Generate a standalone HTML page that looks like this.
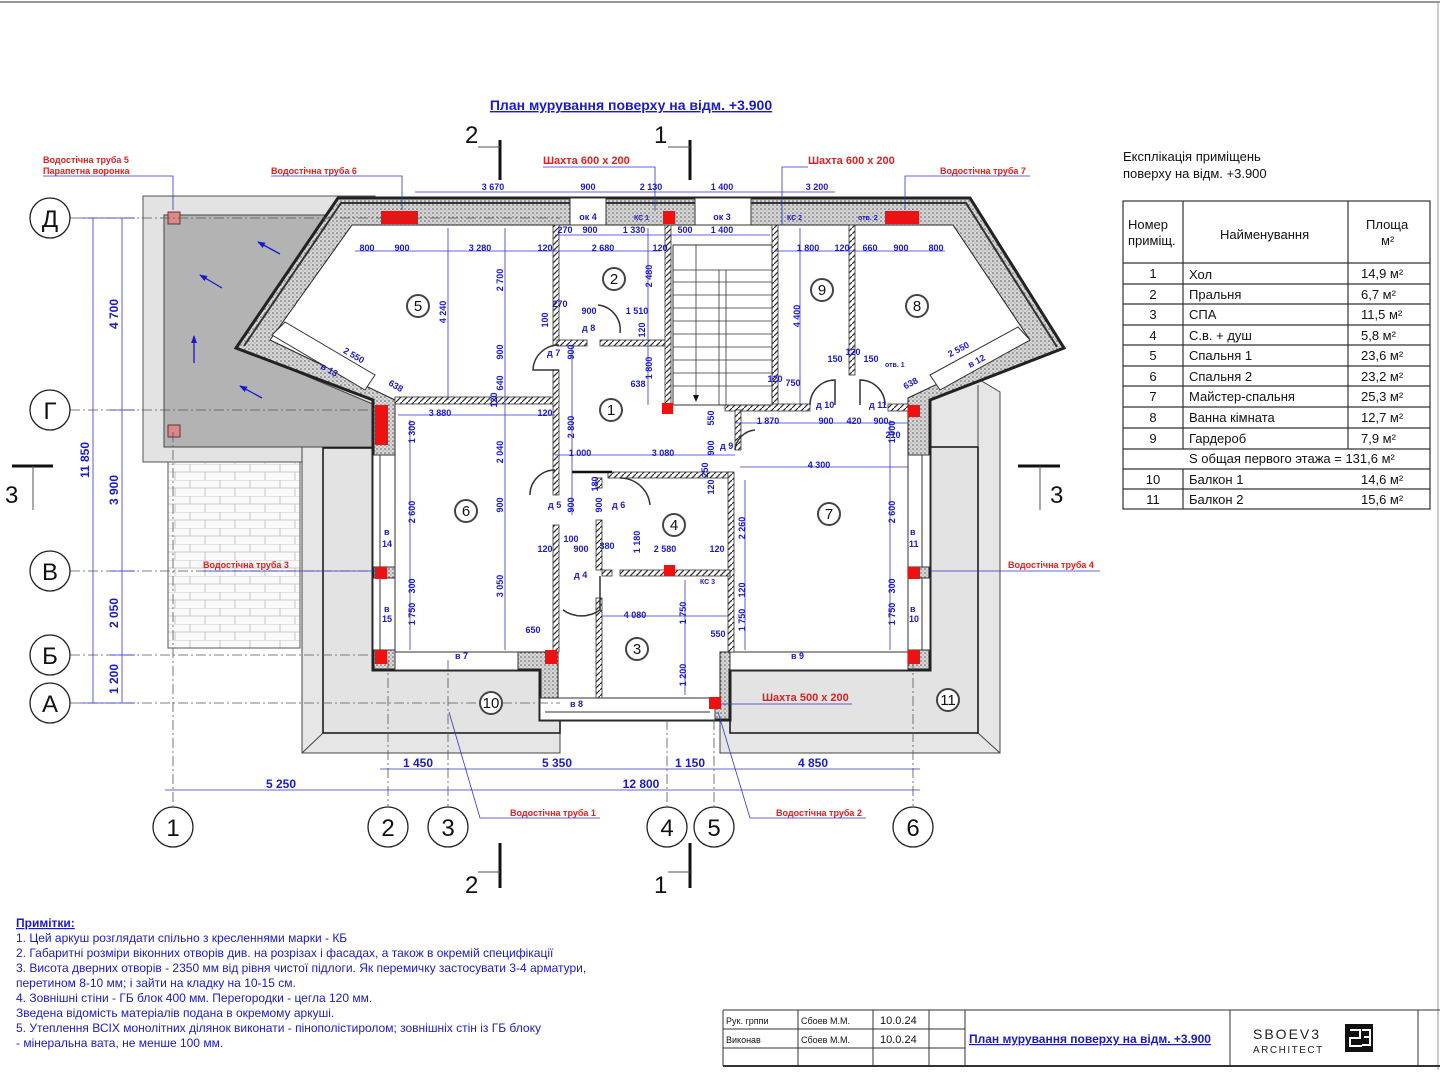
<!DOCTYPE html>
<html><head><meta charset="utf-8"><style>
html,body{margin:0;padding:0;background:#fff}
svg{display:block}
text{font-family:"Liberation Sans",sans-serif}
.d{fill:#1a1acc;font-size:9px;font-weight:bold}
.dl{stroke:#3333cc;stroke-width:0.8;fill:none}
.r{fill:#e02020;font-size:9px;font-weight:bold}
.ax{stroke:#555;stroke-width:0.8;stroke-dasharray:10 3 2 3;fill:none}
.pt{fill:none;stroke:#333;stroke-width:1.5}
.red{fill:#ee1111}
.bt{fill:#1a1acc;font-size:12px}
</style></head><body>
<svg width="1455" height="1080" viewBox="0 0 1455 1080" xmlns="http://www.w3.org/2000/svg">
<defs>
<pattern id="ins" width="4" height="4" patternUnits="userSpaceOnUse"><rect width="4" height="4" fill="#d8d8d8"/><circle cx="1" cy="1" r="0.8" fill="#555"/><circle cx="3" cy="3" r="0.6" fill="#888"/></pattern>
<pattern id="brick" width="30" height="16" patternUnits="userSpaceOnUse"><rect width="30" height="16" fill="#fafafa"/><path d="M0 0H30M0 8H30M10 0V8M25 8V16" stroke="#bbb" stroke-width="0.8"/></pattern>
<pattern id="hat" width="6" height="6" patternUnits="userSpaceOnUse"><rect width="6" height="6" fill="#fff"/><path d="M0 6L6 0" stroke="#333" stroke-width="1.3"/></pattern>
<marker id="ah" markerWidth="8" markerHeight="8" refX="7" refY="4" orient="auto" markerUnits="userSpaceOnUse"><path d="M0 1L8 4L0 7Z" fill="#1a1acc"/></marker>
</defs>
<rect width="1455" height="1080" fill="#fff"/>
<line x1="0" y1="2" x2="1440" y2="2" stroke="#777" stroke-width="1.5"/>
<line x1="1438" y1="2" x2="1438" y2="1070" stroke="#999" stroke-width="1"/>

<text x="631" y="110" text-anchor="middle" style="fill:#1a1acc;font-size:14px;font-weight:bold;text-decoration:underline">План мурування поверху на відм. +3.900</text>

<rect x="143" y="196" width="232" height="266" fill="#e3e3e3" stroke="#555" stroke-width="1"/>
<polygon points="164,215 335,215 240,348 375,405 375,447 164,447" fill="#b3b3b3" stroke="#444" stroke-width="1"/>
<rect x="168" y="212" width="12" height="12" fill="#d88" stroke="#633"/>
<rect x="168" y="425" width="12" height="12" fill="#d88" stroke="#633"/>
<g stroke="#1a1acc" stroke-width="1.3">
<line x1="280" y1="254" x2="258" y2="242" marker-end="url(#ah)"/><line x1="222" y1="288" x2="200" y2="275" marker-end="url(#ah)"/><line x1="194" y1="363" x2="194" y2="336" marker-end="url(#ah)"/><line x1="262" y1="398" x2="240" y2="386" marker-end="url(#ah)"/>
</g>
<rect x="168" y="462" width="132" height="186" fill="url(#brick)" stroke="#555"/>

<rect x="302" y="447" width="258" height="306" fill="#e6e6e6" stroke="#444"/>
<rect x="323" y="448" width="237" height="285" fill="#e3e3e3" stroke="#111" stroke-width="1.5"/>
<line x1="302" y1="753" x2="323" y2="733" stroke="#444"/>
<polygon points="930,385 980,380 1000,392 1000,753 720,753 720,447 930,447" fill="#e6e6e6" stroke="#444"/>
<rect x="730" y="447" width="248" height="286" fill="#e3e3e3" stroke="#111" stroke-width="1.5"/>
<line x1="1000" y1="753" x2="978" y2="733" stroke="#444"/>
<line x1="978" y1="447" x2="978" y2="385" stroke="#444"/>

<polygon points="338,198 970,198 1064,348 930,400 930,670 730,670 730,720 540,720 540,670 373,670 373,400 236,348" fill="url(#ins)" stroke="#222" stroke-width="3"/>
<polyline points="244,346 341,203 966,203 1057,347" fill="none" stroke="#333" stroke-width="2"/>
<polygon points="352,225 953,225 1030,340 908,398 908,652 720,652 720,698 558,698 558,652 395,652 395,400 270,340" fill="#fff" stroke="#222" stroke-width="1"/>
<rect x="540" y="698" width="175" height="22" fill="#fff" stroke="#333"/>
<line x1="545" y1="712" x2="710" y2="712" stroke="#333"/>
<rect x="570" y="198" width="36" height="27" fill="#fff" stroke="#333"/><text x="588" y="220" class="d" text-anchor="middle">ок 4</text>
<rect x="695" y="198" width="56" height="27" fill="#fff" stroke="#333"/><text x="722" y="220" class="d" text-anchor="middle">ок 3</text>
<rect x="373" y="455" width="22" height="112" fill="#fff" stroke="#333"/><line x1="380" y1="455" x2="380" y2="567" stroke="#333"/>
<rect x="373" y="578" width="22" height="72" fill="#fff" stroke="#333"/><line x1="380" y1="578" x2="380" y2="650" stroke="#333"/>
<rect x="908" y="455" width="22" height="112" fill="#fff" stroke="#333"/><line x1="922" y1="455" x2="922" y2="567" stroke="#333"/>
<rect x="908" y="578" width="22" height="72" fill="#fff" stroke="#333"/><line x1="922" y1="578" x2="922" y2="650" stroke="#333"/>
<rect x="395" y="652" width="123" height="18" fill="#fff" stroke="#333"/>
<rect x="730" y="652" width="178" height="18" fill="#fff" stroke="#333"/>
<polygon points="272,335 285,322 375,375 365,390" fill="#fff" stroke="#333"/>
<polygon points="930,375 1018,327 1030,340 940,390" fill="#fff" stroke="#333"/>
<text x="320" y="368" class="d" transform="rotate(30 320 368)">в 13</text>
<text x="970" y="368" class="d" transform="rotate(-28 970 368)">в 12</text>
<text x="384" y="535" class="d">в</text><text x="382" y="547" class="d">14</text>
<text x="384" y="612" class="d">в</text><text x="382" y="622" class="d">15</text>
<text x="910" y="535" class="d">в</text><text x="909" y="547" class="d">11</text>
<text x="910" y="612" class="d">в</text><text x="909" y="622" class="d">10</text>
<text x="455" y="659" class="d">в 7</text><text x="791" y="659" class="d">в 9</text><text x="570" y="707" class="d">в 8</text>

<g fill="url(#hat)" stroke="#333" stroke-width="0.8">
<rect x="395" y="397" width="160" height="7"/>
<rect x="553" y="225" width="6" height="120"/>
<rect x="553" y="370" width="6" height="125"/>
<rect x="553" y="525" width="6" height="127"/>
<rect x="557" y="340" width="30" height="6"/>
<rect x="600" y="340" width="68" height="6"/>
<rect x="665" y="225" width="6" height="180"/>
<rect x="772" y="225" width="6" height="180"/>
<rect x="725" y="404" width="85" height="7"/>
<rect x="888" y="404" width="20" height="7"/>
<rect x="849" y="225" width="6" height="150"/>
<rect x="608" y="472" width="122" height="6"/>
<rect x="728" y="472" width="6" height="180"/>
<rect x="596" y="478" width="6" height="10"/>
<rect x="596" y="520" width="6" height="50"/>
<rect x="596" y="598" width="6" height="100"/>
<rect x="602" y="570" width="10" height="6"/>
<rect x="620" y="570" width="110" height="6"/>
<rect x="735" y="410" width="6" height="40"/>
</g>
<line x1="572" y1="472" x2="612" y2="472" stroke="#111" stroke-width="2.5"/>
<rect x="673" y="245" width="99" height="160" fill="#fff" stroke="#333"/>
<g stroke="#333" stroke-width="0.8">
<line x1="719" y1="270" x2="719" y2="405"/><line x1="726" y1="270" x2="726" y2="405"/>
<line x1="673" y1="270" x2="772" y2="270"/><line x1="673" y1="282" x2="772" y2="282"/><line x1="673" y1="295" x2="772" y2="295"/><line x1="673" y1="308" x2="772" y2="308"/><line x1="673" y1="321" x2="772" y2="321"/><line x1="673" y1="334" x2="772" y2="334"/><line x1="673" y1="347" x2="772" y2="347"/><line x1="673" y1="360" x2="772" y2="360"/><line x1="673" y1="373" x2="772" y2="373"/><line x1="673" y1="386" x2="772" y2="386"/>
<line x1="696" y1="245" x2="696" y2="395"/>
</g>
<path d="M693 395L696 402L699 395Z" fill="#111"/>
<g class="pt" stroke-width="1">
<path d="M559 345 A26 26 0 0 0 533 370 L559 370"/>
<path d="M598 305 A25 25 0 0 1 620 333"/>
<path d="M555 470 A25 25 0 0 0 530 495"/>
<path d="M620 478 A30 30 0 0 1 650 505"/>
<path d="M600 576 V610 A32 32 0 0 1 563 610"/>
<path d="M735 450 A22 22 0 0 1 755 430"/>
<path d="M810 405 A25 25 0 0 1 835 380 V405"/>
<path d="M860 405 V380 A25 25 0 0 1 885 405"/>
</g>
<text x="547" y="356" class="d">д 7</text><text x="582" y="331" class="d">д 8</text><text x="548" y="508" class="d">д 5</text><text x="612" y="508" class="d">д 6</text><text x="574" y="578" class="d">д 4</text><text x="720" y="449" class="d">д 9</text><text x="816" y="408" class="d">д 10</text><text x="869" y="408" class="d">д 11</text>

<g class="red">
<rect x="381" y="211" width="37" height="13"/><rect x="885" y="211" width="34" height="13"/><rect x="663" y="211" width="12" height="13"/>
<rect x="375" y="405" width="13" height="40"/><rect x="908" y="405" width="12" height="12"/>
<rect x="375" y="567" width="12" height="12"/><rect x="908" y="567" width="12" height="12"/>
<rect x="375" y="650" width="12" height="14"/><rect x="545" y="650" width="12" height="14"/><rect x="908" y="650" width="12" height="14"/>
<rect x="662" y="403" width="11" height="11"/><rect x="664" y="565" width="11" height="11"/><rect x="709" y="697" width="12" height="12"/>
</g>
<text x="634" y="220" class="d" style="font-size:7px">КС 1</text>
<text x="787" y="220" class="d" style="font-size:7px">КС 2</text>
<text x="858" y="220" class="d" style="font-size:7px">отв. 2</text>
<text x="885" y="367" class="d" style="font-size:7px">отв. 1</text>
<text x="700" y="584" class="d" style="font-size:7px">КС 3</text>

<g class="ax">
<line x1="70" y1="218" x2="560" y2="218"/><line x1="70" y1="410" x2="375" y2="410"/>
<line x1="70" y1="571" x2="380" y2="571"/><line x1="70" y1="655" x2="375" y2="655"/><line x1="70" y1="703" x2="560" y2="703"/>
<line x1="173" y1="432" x2="173" y2="806"/><line x1="388" y1="660" x2="388" y2="806"/><line x1="448" y1="660" x2="448" y2="806"/>
<line x1="667" y1="720" x2="667" y2="806"/><line x1="714" y1="720" x2="714" y2="806"/><line x1="913" y1="660" x2="913" y2="806"/>
</g>
<g fill="#fff" stroke="#222" stroke-width="1.3">
<circle cx="50" cy="218" r="20"/><circle cx="50" cy="410" r="20"/><circle cx="50" cy="571" r="20"/><circle cx="50" cy="655" r="20"/><circle cx="50" cy="703" r="20"/>
<circle cx="173" cy="827" r="20"/><circle cx="388" cy="827" r="20"/><circle cx="448" cy="827" r="20"/><circle cx="667" cy="827" r="20"/><circle cx="714" cy="827" r="20"/><circle cx="913" cy="827" r="20"/>
</g>
<g style="font-size:24px" fill="#111" text-anchor="middle">
<text x="50" y="227">Д</text><text x="50" y="419">Г</text><text x="50" y="580">В</text><text x="50" y="664">Б</text><text x="50" y="712">А</text>
<text x="173" y="836">1</text><text x="388" y="836">2</text><text x="448" y="836">3</text><text x="667" y="836">4</text><text x="714" y="836">5</text><text x="913" y="836">6</text>
</g>

<g fill="#fff" stroke="#444" stroke-width="2">
<circle cx="418" cy="306" r="11"/><circle cx="614" cy="279" r="11"/><circle cx="822" cy="290" r="11"/><circle cx="917" cy="306" r="11"/><circle cx="611" cy="410" r="11"/><circle cx="466" cy="511" r="11"/><circle cx="674" cy="525" r="11"/><circle cx="829" cy="514" r="11"/><circle cx="637" cy="649" r="11"/><circle cx="491" cy="703" r="11"/><circle cx="948" cy="700" r="11"/>
</g>
<g style="font-size:15px" fill="#111" text-anchor="middle">
<text x="418" y="311">5</text><text x="614" y="284">2</text><text x="822" y="295">9</text><text x="917" y="311">8</text><text x="611" y="415">1</text><text x="466" y="516">6</text><text x="674" y="530">4</text><text x="829" y="519">7</text><text x="637" y="654">3</text><text x="491" y="708">10</text><text x="948" y="705">11</text>
</g>

<g class="dl"><line x1="93" y1="218" x2="93" y2="703"/><line x1="122" y1="218" x2="122" y2="703"/>
<line x1="80" y1="218" x2="135" y2="218"/><line x1="110" y1="410" x2="135" y2="410"/><line x1="110" y1="571" x2="135" y2="571"/><line x1="110" y1="655" x2="135" y2="655"/><line x1="80" y1="703" x2="135" y2="703"/></g>
<g class="d" style="font-size:12px" text-anchor="middle">
<text transform="translate(89 460) rotate(-90)">11 850</text>
<text transform="translate(118 314) rotate(-90)">4 700</text><text transform="translate(118 490) rotate(-90)">3 900</text>
<text transform="translate(118 613) rotate(-90)">2 050</text><text transform="translate(118 679) rotate(-90)">1 200</text>
</g>
<g class="dl"><line x1="380" y1="769" x2="920" y2="769"/><line x1="165" y1="790" x2="920" y2="790"/></g>
<g class="d" style="font-size:12px" text-anchor="middle">
<text x="418" y="767">1 450</text><text x="557" y="767">5 350</text><text x="690" y="767">1 150</text><text x="813" y="767">4 850</text>
<text x="281" y="788">5 250</text><text x="641" y="788">12 800</text>
</g>
<g class="dl"><line x1="415" y1="192" x2="835" y2="192"/><line x1="355" y1="251" x2="660" y2="251"/><line x1="555" y1="235" x2="770" y2="235"/><line x1="775" y1="251" x2="945" y2="251"/><line x1="398" y1="415" x2="555" y2="415"/><line x1="555" y1="455" x2="735" y2="455"/><line x1="740" y1="467" x2="908" y2="467"/><line x1="602" y1="616" x2="728" y2="616"/><line x1="735" y1="423" x2="908" y2="423"/>
<line x1="448" y1="228" x2="448" y2="400"/><line x1="505" y1="228" x2="505" y2="650"/><line x1="410" y1="420" x2="410" y2="650"/><line x1="890" y1="420" x2="890" y2="650"/><line x1="800" y1="228" x2="800" y2="405"/><line x1="648" y1="228" x2="648" y2="405"/><line x1="745" y1="480" x2="745" y2="650"/><line x1="685" y1="580" x2="685" y2="695"/><line x1="572" y1="345" x2="572" y2="515"/></g>
<g class="d" text-anchor="middle">
<text x="493" y="190">3 670</text><text x="588" y="190">900</text><text x="651" y="190">2 130</text><text x="722" y="190">1 400</text><text x="817" y="190">3 200</text>
<text x="367" y="251">800</text><text x="402" y="251">900</text><text x="480" y="251">3 280</text><text x="545" y="251">120</text><text x="603" y="251">2 680</text><text x="660" y="251">120</text>
<text x="565" y="233">270</text><text x="590" y="233">900</text><text x="634" y="233">1 330</text><text x="685" y="233">500</text><text x="722" y="233">1 400</text>
<text x="808" y="251">1 800</text><text x="842" y="251">120</text><text x="870" y="251">660</text><text x="901" y="251">900</text><text x="936" y="251">800</text>
<text x="440" y="416">3 880</text><text x="545" y="416">120</text><text x="580" y="456">1 000</text><text x="663" y="456">3 080</text><text x="819" y="468">4 300</text><text x="768" y="424">1 870</text><text x="826" y="424">900</text><text x="854" y="424">420</text><text x="881" y="424">900</text>
<text x="560" y="307">270</text><text x="589" y="314">900</text><text x="637" y="314">1 510</text><text x="835" y="362">150</text><text x="853" y="355">120</text><text x="871" y="362">150</text><text x="775" y="382">120</text><text x="793" y="386">750</text><text x="638" y="387">638</text>
<text x="545" y="552">120</text><text x="571" y="542">100</text><text x="581" y="552">900</text><text x="607" y="549">380</text><text x="665" y="552">2 580</text><text x="717" y="552">120</text><text x="635" y="618">4 080</text><text x="533" y="633">650</text><text x="718" y="637">550</text>
<text x="355" y="348" transform="rotate(30 335 348)">2 550</text><text x="960" y="352" transform="rotate(-28 960 352)">2 550</text><text x="395" y="386" transform="rotate(30 390 386)">638</text><text x="912" y="386" transform="rotate(-28 912 386)">638</text>
<text x="893" y="438">210</text>
</g>
<g class="d" text-anchor="middle">
<text transform="translate(446 312) rotate(-90)">4 240</text><text transform="translate(503 280) rotate(-90)">2 700</text><text transform="translate(503 352) rotate(-90)">900</text><text transform="translate(503 383) rotate(-90)">640</text><text transform="translate(497 400) rotate(-90)">120</text><text transform="translate(503 452) rotate(-90)">2 040</text><text transform="translate(503 505) rotate(-90)">900</text><text transform="translate(503 586) rotate(-90)">3 050</text>
<text transform="translate(415 432) rotate(-90)">1 300</text><text transform="translate(415 512) rotate(-90)">2 600</text><text transform="translate(415 586) rotate(-90)">300</text><text transform="translate(415 614) rotate(-90)">1 750</text>
<text transform="translate(895 432) rotate(-90)">1 000</text><text transform="translate(895 512) rotate(-90)">2 600</text><text transform="translate(895 586) rotate(-90)">300</text><text transform="translate(895 614) rotate(-90)">1 750</text>
<text transform="translate(800 316) rotate(-90)">4 400</text><text transform="translate(652 276) rotate(-90)">2 480</text><text transform="translate(652 368) rotate(-90)">1 800</text><text transform="translate(645 330) rotate(-90)">120</text>
<text transform="translate(574 352) rotate(-90)">900</text><text transform="translate(574 427) rotate(-90)">2 800</text><text transform="translate(574 505) rotate(-90)">900</text><text transform="translate(602 505) rotate(-90)">900</text><text transform="translate(598 484) rotate(-90)">180</text><text transform="translate(640 542) rotate(-90)">1 180</text>
<text transform="translate(714 418) rotate(-90)">550</text><text transform="translate(714 448) rotate(-90)">900</text><text transform="translate(708 470) rotate(-90)">250</text><text transform="translate(714 487) rotate(-90)">120</text><text transform="translate(745 528) rotate(-90)">2 260</text><text transform="translate(745 590) rotate(-90)">120</text><text transform="translate(745 620) rotate(-90)">1 750</text><text transform="translate(686 613) rotate(-90)">1 750</text><text transform="translate(686 675) rotate(-90)">1 200</text><text transform="translate(548 320) rotate(-90)">100</text>
</g>

<g stroke="#111" stroke-width="3"><line x1="500" y1="140" x2="500" y2="180"/><line x1="690" y1="140" x2="690" y2="180"/><line x1="500" y1="843" x2="500" y2="888"/><line x1="690" y1="843" x2="690" y2="888"/><line x1="12" y1="466" x2="53" y2="466"/><line x1="1018" y1="466" x2="1060" y2="466"/></g>
<g stroke="#555" stroke-width="1"><line x1="478" y1="147" x2="500" y2="147"/><line x1="668" y1="147" x2="690" y2="147"/><line x1="478" y1="872" x2="500" y2="872"/><line x1="668" y1="872" x2="690" y2="872"/><line x1="33" y1="466" x2="33" y2="510"/><line x1="1040" y1="466" x2="1040" y2="510"/></g>
<g style="font-size:24px" fill="#111"><text x="465" y="143">2</text><text x="654" y="143">1</text><text x="465" y="893">2</text><text x="654" y="893">1</text><text x="5" y="503">3</text><text x="1050" y="503">3</text></g>

<text x="43" y="163" class="r">Водостічна труба 5</text><text x="43" y="174" class="r">Парапетна воронка</text>
<text x="271" y="174" class="r">Водостічна труба 6</text>
<text x="543" y="164" class="r" style="font-size:11px">Шахта 600 х 200</text>
<text x="808" y="164" class="r" style="font-size:11px">Шахта 600 х 200</text>
<text x="940" y="174" class="r">Водостічна труба 7</text>
<text x="203" y="568" class="r">Водостічна труба 3</text>
<text x="1008" y="568" class="r">Водостічна труба 4</text>
<text x="762" y="701" class="r" style="font-size:11px">Шахта 500 х 200</text>
<text x="510" y="816" class="r">Водостічна труба 1</text>
<text x="776" y="816" class="r">Водостічна труба 2</text>
<g class="dl"><polyline points="43,176 173,176 173,210"/><polyline points="271,176 402,176 402,210"/><polyline points="543,167 655,167 655,211"/><polyline points="808,167 782,167 782,225"/><polyline points="1030,176 905,176 905,210"/><line x1="203" y1="571" x2="375" y2="571"/><line x1="930" y1="571" x2="1100" y2="571"/><line x1="720" y1="704" x2="852" y2="704"/><polyline points="600,818 480,818 449,712"/><polyline points="866,818 750,818 718,712"/></g>

<text x="1123" y="161" style="font-size:13px" fill="#111">Експлікація приміщень</text>
<text x="1123" y="178" style="font-size:13px" fill="#111">поверху на відм. +3.900</text>
<g stroke="#333" stroke-width="1.2" fill="none">
<rect x="1123" y="201" width="307" height="308"/>
<line x1="1183" y1="201" x2="1183" y2="449"/><line x1="1183" y1="469" x2="1183" y2="509"/><line x1="1348" y1="201" x2="1348" y2="449"/>
<line x1="1123" y1="263" x2="1430" y2="263"/><line x1="1123" y1="284" x2="1430" y2="284"/><line x1="1123" y1="304" x2="1430" y2="304"/><line x1="1123" y1="325" x2="1430" y2="325"/><line x1="1123" y1="345" x2="1430" y2="345"/><line x1="1123" y1="366" x2="1430" y2="366"/><line x1="1123" y1="386" x2="1430" y2="386"/><line x1="1123" y1="407" x2="1430" y2="407"/><line x1="1123" y1="428" x2="1430" y2="428"/><line x1="1123" y1="449" x2="1430" y2="449"/><line x1="1123" y1="469" x2="1430" y2="469"/><line x1="1123" y1="489" x2="1430" y2="489"/>
</g>
<g style="font-size:13px" fill="#111">
<text x="1128" y="229">Номер</text><text x="1128" y="245">приміщ.</text><text x="1220" y="239">Найменування</text><text x="1366" y="229">Площа</text><text x="1381" y="245">м²</text>
<g text-anchor="middle"><text x="1153" y="278">1</text><text x="1153" y="299">2</text><text x="1153" y="319">3</text><text x="1153" y="340">4</text><text x="1153" y="360">5</text><text x="1153" y="381">6</text><text x="1153" y="401">7</text><text x="1153" y="422">8</text><text x="1153" y="443">9</text><text x="1153" y="484">10</text><text x="1153" y="504">11</text></g>
<text x="1189" y="279">Хол</text><text x="1189" y="299">Пральня</text><text x="1189" y="319">СПА</text><text x="1189" y="340">С.в. + душ</text><text x="1189" y="360">Спальня 1</text><text x="1189" y="381">Спальня 2</text><text x="1189" y="401">Майстер-спальня</text><text x="1189" y="422">Ванна кімната</text><text x="1189" y="443">Гардероб</text><text x="1189" y="463">S общая первого этажа = 131,6 м²</text><text x="1189" y="484">Балкон 1</text><text x="1189" y="504">Балкон 2</text>
<text x="1361" y="278">14,9 м²</text><text x="1361" y="299">6,7 м²</text><text x="1361" y="319">11,5 м²</text><text x="1361" y="340">5,8 м²</text><text x="1361" y="360">23,6 м²</text><text x="1361" y="381">23,2 м²</text><text x="1361" y="401">25,3 м²</text><text x="1361" y="422">12,7 м²</text><text x="1361" y="443">7,9 м²</text><text x="1361" y="484">14,6 м²</text><text x="1361" y="504">15,6 м²</text>
</g>

<text x="16" y="927" style="fill:#1a1acc;font-size:12px;font-weight:bold;text-decoration:underline">Примітки:</text>
<text x="16" y="942" class="bt">1. Цей аркуш розглядати спільно з кресленнями марки - КБ</text>
<text x="16" y="957" class="bt">2. Габаритні розміри віконних отворів див. на розрізах і фасадах, а також в окремій специфікації</text>
<text x="16" y="972" class="bt">3. Висота дверних отворів - 2350 мм від рівня чистої підлоги. Як перемичку застосувати 3-4 арматури,</text>
<text x="16" y="987" class="bt">перетином 8-10 мм; і зайти на кладку на 10-15 см.</text>
<text x="16" y="1002" class="bt">4. Зовнішні стіни - ГБ блок 400 мм. Перегородки - цегла 120 мм.</text>
<text x="16" y="1017" class="bt">Зведена відомість матеріалів подана в окремому аркуші.</text>
<text x="16" y="1032" class="bt">5. Утеплення ВСІХ монолітних ділянок виконати - пінополістиролом; зовнішніх стін із ГБ блоку</text>
<text x="16" y="1047" class="bt">- мінеральна вата, не менше 100 мм.</text>

<g stroke="#333" stroke-width="1" fill="none">
<line x1="723" y1="1010" x2="1440" y2="1010"/><line x1="723" y1="1066" x2="1440" y2="1066" stroke-width="2"/>
<line x1="723" y1="1010" x2="723" y2="1066"/><line x1="798" y1="1010" x2="798" y2="1066"/><line x1="873" y1="1010" x2="873" y2="1066"/><line x1="929" y1="1010" x2="929" y2="1066"/><line x1="965" y1="1010" x2="965" y2="1066"/><line x1="1230" y1="1010" x2="1230" y2="1066"/><line x1="1418" y1="1010" x2="1418" y2="1066"/>
<line x1="723" y1="1029" x2="965" y2="1029"/><line x1="723" y1="1048" x2="965" y2="1048"/>
</g>
<g fill="#111" style="font-size:9px"><text x="726" y="1024">Рук. грппи</text><text x="801" y="1024">Сбоев М.М.</text><text x="726" y="1043">Виконав</text><text x="801" y="1043">Сбоев М.М.</text></g>
<g fill="#111" style="font-size:11px"><text x="880" y="1024">10.0.24</text><text x="880" y="1043">10.0.24</text></g>
<text x="969" y="1043" style="fill:#1a1acc;font-size:12px;font-weight:bold;text-decoration:underline">План мурування поверху на відм. +3.900</text>
<text x="1253" y="1039" style="font-size:14px;letter-spacing:2px" fill="#222">SBOEV3</text>
<text x="1253" y="1053" style="font-size:10px;letter-spacing:1.5px" fill="#222">ARCHITECT</text>
<rect x="1345" y="1024" width="28" height="28" fill="#111"/><path d="M1350 1030h10v8h-10v8h12M1362 1030h8v7h-6h6v8h-8" stroke="#fff" stroke-width="2" fill="none"/>
</svg>
</body></html>
